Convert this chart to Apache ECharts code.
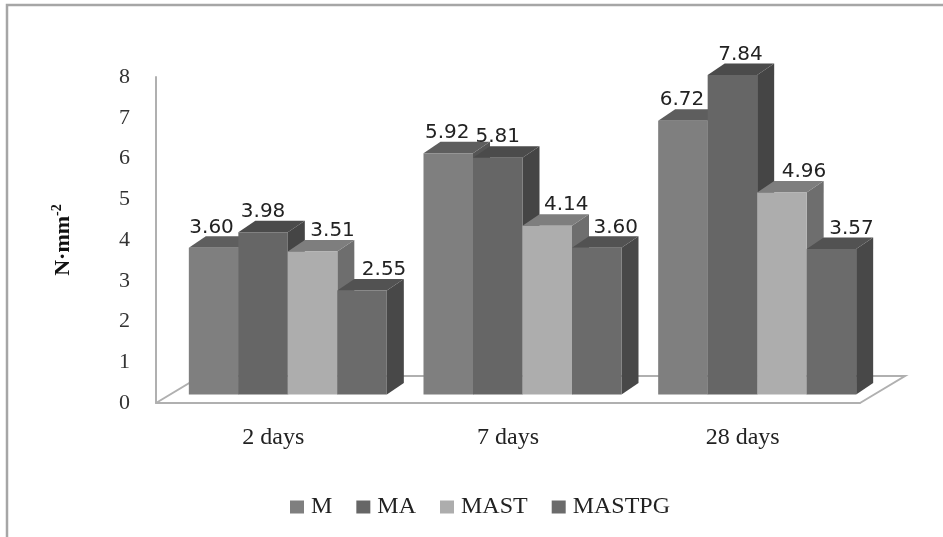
<!DOCTYPE html>
<html>
    <head>
        <meta charset="utf-8">
        <script src="https://cdn.jsdelivr.net/npm/echarts@6/dist/echarts.min.js"></script>
        <style>
            html, body { margin: 0; background: #fff; }
            #main { width: 943px; height: 537px; }
        </style>
    </head>
    <body>
        <div id="main"></div>
        <script>

        var categories = ['2 days', '7 days', '28 days'];
        var seriesNames = ['M', 'MA', 'MAST', 'MASTPG'];
        var valuesM = [3.60, 5.92, 6.72];
        var valuesMA = [3.98, 5.81, 7.84];
        var valuesMAST = [3.51, 4.14, 4.96];
        var valuesMASTPG = [2.55, 3.60, 3.57];
        var seriesValues = [valuesM, valuesMA, valuesMAST, valuesMASTPG];

        // front, top, side
        var faceColors = [
            ['#7f7f7f', '#5e5e5e', '#555555'],
            ['#666666', '#4b4b4b', '#454545'],
            ['#adadad', '#7e7e7e', '#6e6e6e'],
            ['#6b6b6b', '#525252', '#484848']
        ];

        var barWidth = 49.5;
        var depthX = 17;
        var depthY = 11.5;
        var baseLift = 8.5;
        var groupShift = 14.5;
        // labels sit to the right of the bar where the neighbour would hide them
        var labelShift = [
            [-2, 0, 20, 22],
            [-1, 0, 19, 19],
            [-1, 8, 22, 20]
        ];
        var serif = '"Liberation Serif", "Times New Roman", serif';

        function renderBar(seriesIdx) {
            return function (params, api) {
                var catIdx = api.value(0);
                var value = api.value(1);
                var base = api.coord([catIdx, 0]);
                var top = api.coord([catIdx, value]);
                var colors = faceColors[seriesIdx];
                var x0 = base[0] + groupShift + (seriesIdx - 2) * barWidth;
                var x1 = x0 + barWidth;
                var y0 = base[1] - baseLift;
                var y1 = top[1] - baseLift;
                return {
                    type: 'group',
                    children: [{
                        type: 'polygon',
                        shape: { points: [[x1, y0], [x1 + depthX, y0 - depthY], [x1 + depthX, y1 - depthY], [x1, y1]] },
                        style: { fill: colors[2] }
                    }, {
                        type: 'polygon',
                        shape: { points: [[x0, y1], [x0 + depthX, y1 - depthY], [x1 + depthX, y1 - depthY], [x1, y1]] },
                        style: { fill: colors[1] }
                    }, {
                        type: 'rect',
                        shape: { x: x0, y: y1, width: barWidth, height: y0 - y1 },
                        style: { fill: colors[0] }
                    }, {
                        type: 'text',
                        z2: 100,
                        style: {
                            x: x0 + barWidth / 2 + labelShift[catIdx][seriesIdx],
                            y: y1 - 10.5,
                            text: value.toFixed(2),
                            align: 'center',
                            verticalAlign: 'bottom',
                            fill: '#222',
                            font: '20px "DejaVu Sans"'
                        }
                    }]
                };
            };
        }

        function renderFloor(params) {
            var rect = params.coordSys;
            var left = rect.x;
            var right = rect.x + rect.width;
            var bottom = rect.y + rect.height;
            return {
                type: 'polyline',
                shape: { points: [[left, bottom], [left + 45, bottom - 27], [right + 45, bottom - 27], [right, bottom]] },
                style: { fill: null, stroke: '#b0b0b0', lineWidth: 2 }
            };
        }

        var series = [{
            type: 'custom',
            silent: true,
            renderItem: renderFloor,
            data: [[0, 0]],
            z: 1
        }];
        seriesNames.forEach(function (name, i) {
            series.push({
                type: 'custom',
                name: name,
                renderItem: renderBar(i),
                encode: { x: 0, y: 1 },
                itemStyle: { color: faceColors[i][0] },
                data: seriesValues[i].map(function (v, c) { return [c, v]; }),
                z: 2
            });
        });

        var chart = echarts.init(document.getElementById('main'));

        chart.setOption({
            animation: false,
            backgroundColor: '#fff',
            graphic: [{
                type: 'polyline',
                shape: { points: [[7, 537], [7, 5], [943, 5]] },
                style: { fill: null, stroke: '#a6a6a6', lineWidth: 2.5 }
            }],
            grid: { left: 156, top: 77, width: 704, height: 326 },
            legend: {
                data: seriesNames,
                left: 285,
                top: 490,
                icon: 'rect',
                itemWidth: 14,
                itemHeight: 13,
                itemGap: 24,
                itemStyle: { borderWidth: 0 },
                selectedMode: false,
                textStyle: { fontFamily: serif, fontSize: 24, color: '#222', padding: [0, 0, 0, 2] }
            },
            xAxis: {
                type: 'category',
                data: categories,
                axisLine: { lineStyle: { color: '#b0b0b0', width: 2 } },
                axisTick: { show: false },
                axisLabel: { fontFamily: serif, fontSize: 24, color: '#222', margin: 23 }
            },
            yAxis: {
                type: 'value',
                min: 0,
                max: 8,
                interval: 1,
                name: '{base|N·mm}{sup|-2}',
                nameLocation: 'middle',
                nameRotate: 90,
                nameGap: 80,
                nameTextStyle: {
                    rich: {
                        base: { fontFamily: serif, fontSize: 22, fontWeight: 'bold', color: '#111', lineHeight: 26 },
                        sup: { fontFamily: serif, fontSize: 14, fontWeight: 'bold', color: '#111', verticalAlign: 'top', lineHeight: 26 }
                    }
                },
                axisLine: { show: true, lineStyle: { color: '#b0b0b0', width: 2 } },
                axisTick: { show: false },
                splitLine: { show: false },
                axisLabel: { fontFamily: serif, fontSize: 22, color: '#333', margin: 26 }
            },
            series: series
        });

        window.onresize = chart.resize;

        </script>
    </body>
</html>
